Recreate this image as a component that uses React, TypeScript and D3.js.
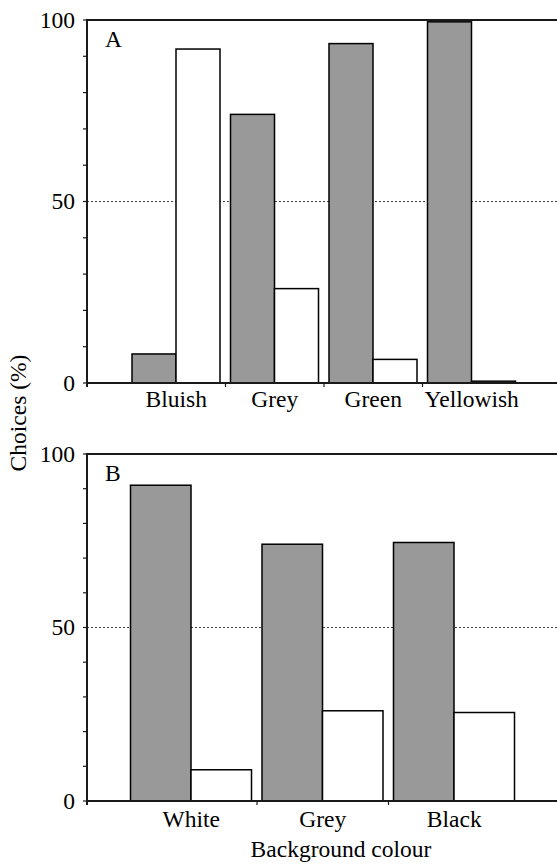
import React from "react";
import * as d3 from "d3";

const categoriesA = ["Bluish", "Grey", "Green", "Yellowish"];
const greyA = [8, 74, 93.5, 99.5];
const whiteA = [92, 26, 6.5, 0.5];

const categoriesB = ["White", "Grey", "Black"];
const greyB = [91, 74, 74.5];
const whiteB = [9, 26, 25.5];

const yTicks = d3.range(0, 101, 10);
const yLabels = [0, 50, 100];

const FONT = "Liberation Serif, Times New Roman, serif";
const FS = 23.5;

type PanelProps = {
  letter: string;
  cats: string[];
  grey: number[];
  white: number[];
  top: number;
  bottom: number;
  bandRange: [number, number];
  labelY: number;
};

const LEFT = 87;
const RIGHT = 557;

const textStyle = { fontFamily: FONT, fontSize: FS } as React.CSSProperties;

function Panel({ letter, cats, grey, white, top, bottom, bandRange, labelY }: PanelProps) {
  const y = d3.scaleLinear().domain([0, 100]).range([bottom, top]);
  const x = d3.scaleBand<string>().domain(cats).range(bandRange).paddingInner(0).paddingOuter(0);
  const bw = x.bandwidth();
  const x1 = d3.scaleBand<string>().domain(["grey", "white"]).range([5, bw - 5.5]).padding(0);
  const boundaries = cats.slice(1).map((c) => x(c) as number);
  return (
    <g>
      <line x1={LEFT} x2={RIGHT} y1={y(50)} y2={y(50)} stroke="#444" strokeWidth={1} strokeDasharray="2,2" />
      {cats.map((c, i) => (
        <g key={c}>
          <rect
            x={(x(c) as number) + (x1("grey") as number)}
            y={y(grey[i])}
            width={x1.bandwidth()}
            height={y(0) - y(grey[i])}
            fill="#999999"
            stroke="#000"
            strokeWidth={1.5}
          />
          <rect
            x={(x(c) as number) + (x1("white") as number)}
            y={y(white[i])}
            width={x1.bandwidth()}
            height={y(0) - y(white[i])}
            fill="#fff"
            stroke="#000"
            strokeWidth={1.5}
          />
        </g>
      ))}
      <line x1={LEFT} x2={RIGHT} y1={top} y2={top} stroke="#1a1a1a" strokeWidth={2} />
      <line x1={LEFT} x2={LEFT} y1={top - 1} y2={bottom + 4} stroke="#1a1a1a" strokeWidth={2} />
      {yTicks.map((t) => (
        <line key={t} x1={LEFT - 4} x2={LEFT} y1={y(t)} y2={y(t)} stroke="#1a1a1a" strokeWidth={1.2} />
      ))}
      {yLabels.map((t) => (
        <text key={t} x={LEFT - 12} y={y(t)} dy="0.34em" textAnchor="end" style={textStyle} fill="#000">
          {t}
        </text>
      ))}
      <line x1={LEFT} x2={RIGHT} y1={bottom} y2={bottom} stroke="#1a1a1a" strokeWidth={2} />
      {boundaries.map((b, i) => (
        <line key={i} x1={b} x2={b} y1={bottom} y2={bottom + 4} stroke="#1a1a1a" strokeWidth={1.2} />
      ))}
      {cats.map((c) => (
        <text key={c} x={(x(c) as number) + bw / 2} y={labelY} textAnchor="middle" style={textStyle} fill="#000">
          {c}
        </text>
      ))}
      <text x={105} y={top + 27} style={textStyle} fill="#000">
        {letter}
      </text>
    </g>
  );
}

export default function App() {
  return (
    <svg width={557} height={864} style={{ position: "absolute", left: 0, top: 0, background: "#fff" }}>
      <rect x={0} y={0} width={557} height={864} fill="#fff" />
      <Panel letter="A" cats={categoriesA} grey={greyA} white={whiteA} top={20} bottom={383} bandRange={[127, 521]} labelY={407} />
      <Panel letter="B" cats={categoriesB} grey={greyB} white={whiteB} top={454} bottom={801} bandRange={[125.5, 520]} labelY={827} />
      <text transform="translate(26,413) rotate(-90)" textAnchor="middle" style={textStyle} fill="#000">
        Choices (%)
      </text>
      <text x={341} y={857} textAnchor="middle" style={textStyle} fill="#000">
        Background colour
      </text>
    </svg>
  );
}
